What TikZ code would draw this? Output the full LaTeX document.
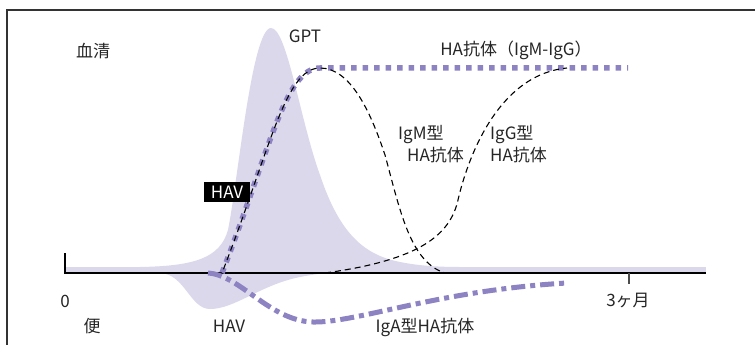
\documentclass[tikz,border=0pt]{standalone}
\usepackage{fontspec}
\setmainfont{Noto Sans CJK JP}
\definecolor{lav}{HTML}{DBD8EC}
\definecolor{pur}{HTML}{8D82C2}
\definecolor{frame}{HTML}{333333}
\begin{document}
\begin{tikzpicture}[x=1pt,y=-1pt,
  lbl/.style={inner sep=0pt,font=\fontsize{17}{20}\selectfont,text=black!85},
  purdot/.style={pur,line width=5.5pt,dash pattern=on 5.5pt off 6pt},
  purdashdot/.style={pur,line width=5pt,dash pattern=on 14pt off 5pt on 5pt off 5pt},
  blkdash/.style={black,line width=1.1pt,dash pattern=on 6pt off 4pt},
  axisline/.style={black,line width=1.3pt}]
\useasboundingbox (0,0) rectangle (755,345);
\fill[white] (0,0) rectangle (755,345);
% frame
\draw[frame,line width=1.5pt] (7,345) -- (7,10) -- (756,10);
% fills
\fill[lav] (65,267) rectangle (706,273);
\fill[lav] (140,267) .. controls (195,266) and (220,258) .. (228,230)
  .. controls (238,180) and (252,28) .. (271,28)
  .. controls (287,28) and (300,120) .. (320,175)
  .. controls (340,235) and (365,255) .. (400,262)
  .. controls (420,266) and (440,267) .. (460,267) -- (460,273) -- (140,273) -- cycle;
\fill[lav] (160,273) .. controls (185,274) and (190,309) .. (210,309)
  .. controls (235,309) and (260,285) .. (300,277)
  .. controls (315,274) and (325,273) .. (335,273) -- cycle;
% axis
\coordinate (o) at (65,273);
\coordinate (xend) at (706,273);
\coordinate (otop) at (65,253);
\coordinate (m3) at (629,273);
\coordinate (m3b) at (629,284);
\draw[axisline] (otop) -- (o) -- (xend);
\draw[black!70,line width=1.2pt] (m3) -- (m3b);
% curves
\coordinate (ha0) at (222,273);
\coordinate (hatop) at (320,68);
\coordinate (haend) at (628,68);
\draw[purdot] (ha0) .. controls (270,150) and (285,68) .. (hatop) -- (haend);
\coordinate (igm0) at (216,273);
\coordinate (igmend) at (445,273);
\draw[blkdash] (igm0) -- (ha0) .. controls (270,150) and (285,68) .. (hatop)
  .. controls (350,68) and (370,110) .. (385,155)
  .. controls (400,210) and (410,262) .. (igmend);
\coordinate (igg0) at (325,273);
\coordinate (iggend) at (567,68);
\draw[blkdash] (igg0) .. controls (420,260) and (450,235) .. (458,200)
  .. controls (466,165) and (495,75) .. (iggend);
\coordinate (iga0) at (208,273);
\coordinate (igamin) at (313,322);
\coordinate (igaend) at (567,283);
\draw[purdashdot] (iga0) .. controls (240,275) and (270,321) .. (igamin)
  .. controls (356,323) and (440,290) .. (igaend);
% labels
\node[lbl] (serum) at (93,51) {血清};
\node[lbl] (gpt) at (305,36) {GPT};
\node[lbl] (haab) at (516,50) {HA抗体（IgM-IgG）};
\node[lbl,anchor=west] (igm1) at (398,135) {IgM型};
\node[lbl,anchor=west] (igm2) at (407,155) {HA抗体};
\node[lbl,anchor=west] (igg1) at (490,135) {IgG型};
\node[lbl,anchor=west] (igg2) at (490,155) {HA抗体};
\node[lbl,fill=black,text=white,minimum width=46pt,minimum height=20pt] (havbox) at (227,192) {HAV};
\node[lbl] (zero) at (65,301) {0};
\node[lbl] (stool) at (92,326) {便};
\node[lbl] (havlow) at (229,326) {HAV};
\node[lbl] (iga) at (425,327) {IgA型HA抗体};
\node[lbl] (month) at (628,300) {3ヶ月};
\end{tikzpicture}
\end{document}
